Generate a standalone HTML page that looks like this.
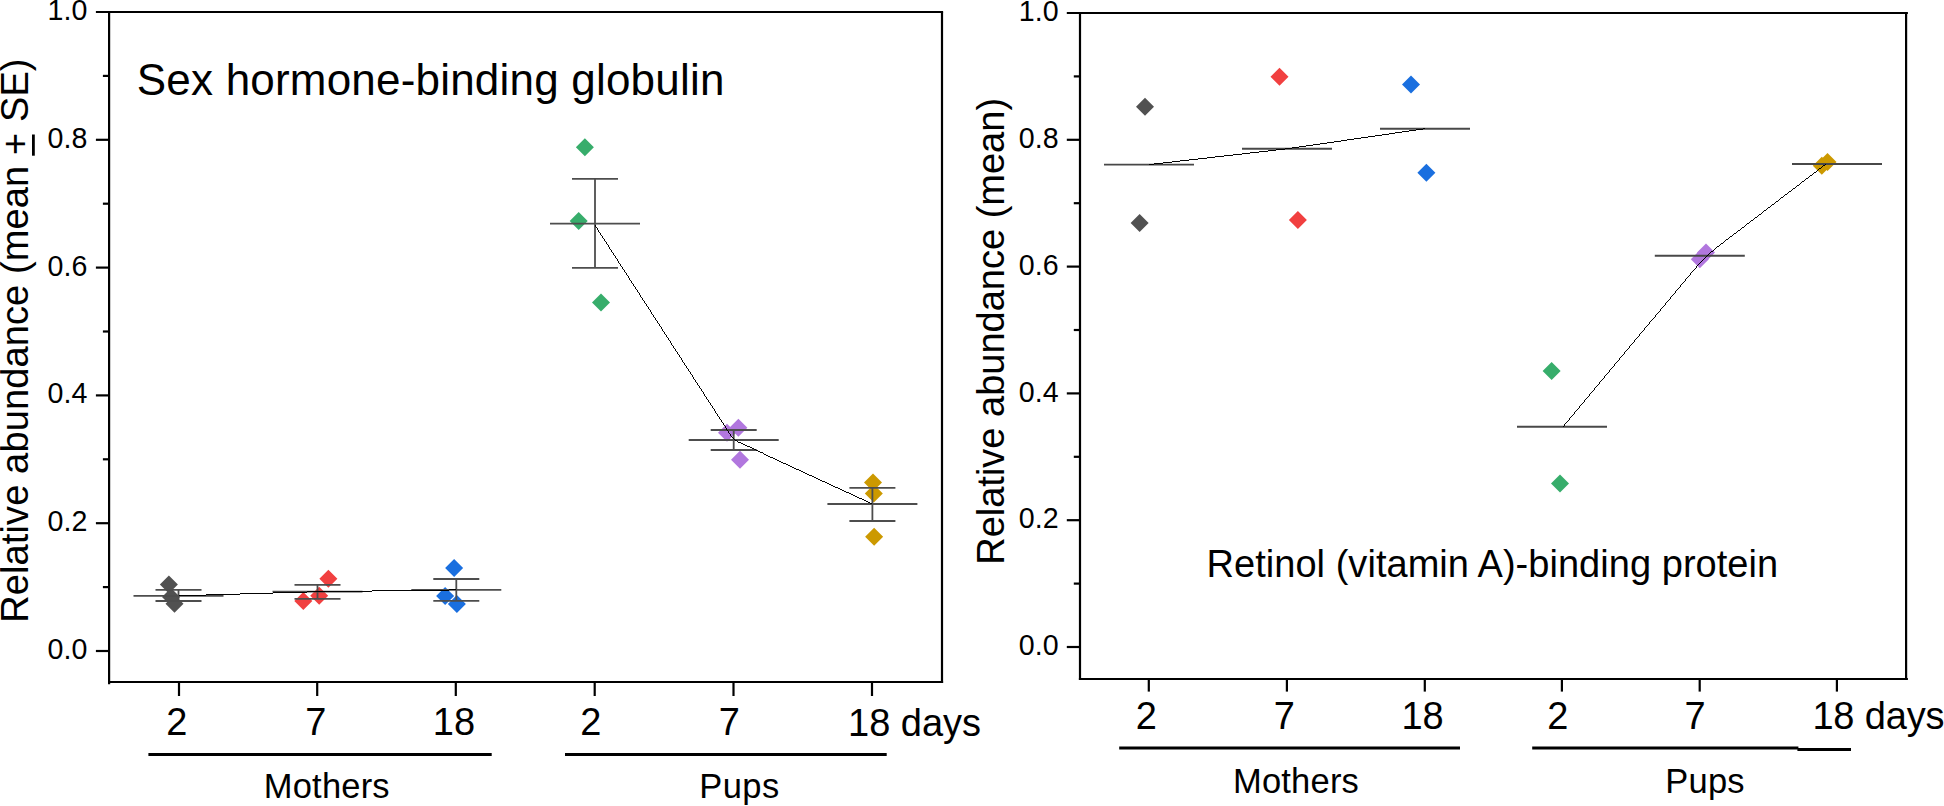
<!DOCTYPE html>
<html lang="en"><head><meta charset="utf-8"><title>Relative abundance plots</title>
<style>
html,body{margin:0;padding:0;background:#fff;}
body{width:1944px;height:806px;overflow:hidden;}
svg{display:block;}
text{font-family:"Liberation Sans",Arial,Helvetica,sans-serif;fill:#000;}
</style></head><body>
<svg width="1944" height="806" viewBox="0 0 1944 806">
<rect width="1944" height="806" fill="#fff"/>
<g stroke="#000" stroke-width="2.2" fill="none" stroke-linecap="butt">
<path d="M95.89999999999999,12 H943.1"/>
<path d="M109.1,12 V684.2"/>
<path d="M108.0,682 H943.1"/>
<path d="M942,12 V683.1"/>
<path d="M102.89999999999999,75.9 H109.1"/>
<path d="M95.89999999999999,139.8 H109.1"/>
<path d="M102.89999999999999,203.7 H109.1"/>
<path d="M95.89999999999999,267.6 H109.1"/>
<path d="M102.89999999999999,331.5 H109.1"/>
<path d="M95.89999999999999,395.4 H109.1"/>
<path d="M102.89999999999999,459.3 H109.1"/>
<path d="M95.89999999999999,523.2 H109.1"/>
<path d="M102.89999999999999,587.1 H109.1"/>
<path d="M95.89999999999999,651.0 H109.1"/>
<path d="M179,682 V696"/>
<path d="M317.2,682 V696"/>
<path d="M455.8,682 V696"/>
<path d="M594.7,682 V696"/>
<path d="M733.5,682 V696"/>
<path d="M872,682 V696"/>
</g>
<text x="87.3" y="20.0" font-size="28.6" text-anchor="end">1.0</text>
<text x="87.3" y="147.8" font-size="28.6" text-anchor="end">0.8</text>
<text x="87.3" y="275.6" font-size="28.6" text-anchor="end">0.6</text>
<text x="87.3" y="403.4" font-size="28.6" text-anchor="end">0.4</text>
<text x="87.3" y="531.2" font-size="28.6" text-anchor="end">0.2</text>
<text x="87.3" y="659.0" font-size="28.6" text-anchor="end">0.0</text>
<text x="176.9" y="735.3000000000001" font-size="38" text-anchor="middle">2</text>
<text x="315.9" y="735.3000000000001" font-size="38" text-anchor="middle">7</text>
<text x="453.9" y="735.3000000000001" font-size="38" text-anchor="middle">18</text>
<text x="590.9" y="735.3000000000001" font-size="38" text-anchor="middle">2</text>
<text x="729.3" y="735.3000000000001" font-size="38" text-anchor="middle">7</text>
<text x="848" y="735.6" font-size="38" text-anchor="start">18 days</text>
<line x1="148.4" y1="754.4" x2="491.7" y2="754.4" stroke="#000" stroke-width="3"/>
<line x1="565" y1="754.4" x2="886.7" y2="754.4" stroke="#000" stroke-width="3"/>
<text x="263.8" y="798.0" font-size="34.5" letter-spacing="0.2">Mothers</text>
<text x="699.2" y="798.0" font-size="34.5" letter-spacing="0.45">Pups</text>
<text transform="translate(28.1,622.8) rotate(-90)" font-size="38" letter-spacing="0.12">Relative abundance (mean + SE)</text>
<line x1="33.4" y1="155.7" x2="33.4" y2="134.5" stroke="#000" stroke-width="2.8"/>
<text x="136.8" y="94.5" font-size="44" letter-spacing="0.2">Sex hormone-binding globulin</text>
<polygon points="168.9,575.4 177.9,584.4 168.9,593.4 159.9,584.4" fill="#515151"/>
<polygon points="171,588 180,597 171,606 162,597" fill="#515151"/>
<polygon points="174.5,594.7 183.5,603.7 174.5,612.7 165.5,603.7" fill="#515151"/>
<polygon points="328.4,569.7 337.4,578.7 328.4,587.7 319.4,578.7" fill="#F14040"/>
<polygon points="319.2,586.8 328.2,595.8 319.2,604.8 310.2,595.8" fill="#F14040"/>
<polygon points="303.3,592 312.3,601 303.3,610 294.3,601" fill="#F14040"/>
<polygon points="454.1,558.9 463.1,567.9 454.1,576.9 445.1,567.9" fill="#1A6FDF"/>
<polygon points="445.1,587.1 454.1,596.1 445.1,605.1 436.1,596.1" fill="#1A6FDF"/>
<polygon points="456.9,595.1 465.9,604.1 456.9,613.1 447.9,604.1" fill="#1A6FDF"/>
<polygon points="584.9,138.3 593.9,147.3 584.9,156.3 575.9,147.3" fill="#37AD6B"/>
<polygon points="578.7,212 587.7,221 578.7,230 569.7,221" fill="#37AD6B"/>
<polygon points="601,293.4 610,302.4 601,311.4 592,302.4" fill="#37AD6B"/>
<polygon points="738.4,418.8 747.4,427.8 738.4,436.8 729.4,427.8" fill="#B177DE"/>
<polygon points="727,423.8 736,432.8 727,441.8 718,432.8" fill="#B177DE"/>
<polygon points="740,450.7 749,459.7 740,468.7 731,459.7" fill="#B177DE"/>
<polygon points="873,473.6 882,482.6 873,491.6 864,482.6" fill="#CC9900"/>
<polygon points="873.8,484.4 882.8,493.4 873.8,502.4 864.8,493.4" fill="#CC9900"/>
<polygon points="874.1,527.8 883.1,536.8 874.1,545.8 865.1,536.8" fill="#CC9900"/>
<line x1="133.5" y1="595.8" x2="223.5" y2="595.8" stroke="#4d4d4d" stroke-width="1.8"/>
<line x1="155.5" y1="589.9" x2="201.5" y2="589.9" stroke="#4d4d4d" stroke-width="1.8"/>
<line x1="155.5" y1="601.0" x2="201.5" y2="601.0" stroke="#4d4d4d" stroke-width="1.8"/>
<line x1="178.5" y1="589.9" x2="178.5" y2="601.0" stroke="#4d4d4d" stroke-width="1.8"/>
<line x1="272.5" y1="591.7" x2="362.5" y2="591.7" stroke="#4d4d4d" stroke-width="1.8"/>
<line x1="294.5" y1="584.9" x2="340.5" y2="584.9" stroke="#4d4d4d" stroke-width="1.8"/>
<line x1="294.5" y1="598.9" x2="340.5" y2="598.9" stroke="#4d4d4d" stroke-width="1.8"/>
<line x1="317.5" y1="584.9" x2="317.5" y2="598.9" stroke="#4d4d4d" stroke-width="1.8"/>
<line x1="411.3" y1="589.9" x2="501.3" y2="589.9" stroke="#4d4d4d" stroke-width="1.8"/>
<line x1="433.3" y1="579.0" x2="479.3" y2="579.0" stroke="#4d4d4d" stroke-width="1.8"/>
<line x1="433.3" y1="600.9" x2="479.3" y2="600.9" stroke="#4d4d4d" stroke-width="1.8"/>
<line x1="456.3" y1="579.0" x2="456.3" y2="600.9" stroke="#4d4d4d" stroke-width="1.8"/>
<line x1="550" y1="223.7" x2="640" y2="223.7" stroke="#4d4d4d" stroke-width="1.8"/>
<line x1="572" y1="178.8" x2="618" y2="178.8" stroke="#4d4d4d" stroke-width="1.8"/>
<line x1="572" y1="267.9" x2="618" y2="267.9" stroke="#4d4d4d" stroke-width="1.8"/>
<line x1="595" y1="178.8" x2="595" y2="267.9" stroke="#4d4d4d" stroke-width="1.8"/>
<line x1="688.7" y1="440" x2="778.7" y2="440" stroke="#4d4d4d" stroke-width="1.8"/>
<line x1="710.7" y1="430" x2="756.7" y2="430" stroke="#4d4d4d" stroke-width="1.8"/>
<line x1="710.7" y1="450" x2="756.7" y2="450" stroke="#4d4d4d" stroke-width="1.8"/>
<line x1="733.7" y1="430" x2="733.7" y2="450" stroke="#4d4d4d" stroke-width="1.8"/>
<line x1="827.4" y1="504" x2="917.4" y2="504" stroke="#4d4d4d" stroke-width="1.8"/>
<line x1="849.4" y1="487.8" x2="895.4" y2="487.8" stroke="#4d4d4d" stroke-width="1.8"/>
<line x1="849.4" y1="521" x2="895.4" y2="521" stroke="#4d4d4d" stroke-width="1.8"/>
<line x1="872.4" y1="487.8" x2="872.4" y2="521" stroke="#4d4d4d" stroke-width="1.8"/>
<g stroke="#000" stroke-width="0.99" fill="none" shape-rendering="crispEdges">
<path d="M178.5,595.8 L317.5,591.7 L456.3,589.9"/>
<path d="M594.5,224.6 L730.5,435 Q733.9,440.2 739.5,442.8 L872.4,504"/>
</g>
<g stroke="#000" stroke-width="2.2" fill="none" stroke-linecap="butt">
<path d="M1066.8,13 H1907.8999999999999"/>
<path d="M1080,13 V680.1"/>
<path d="M1078.9,679 H1907.8999999999999"/>
<path d="M1906.1,13 V680.1"/>
<path d="M1073.8,76.4 H1080"/>
<path d="M1066.8,139.8 H1080"/>
<path d="M1073.8,203.2 H1080"/>
<path d="M1066.8,266.6 H1080"/>
<path d="M1073.8,330.0 H1080"/>
<path d="M1066.8,393.4 H1080"/>
<path d="M1073.8,456.8 H1080"/>
<path d="M1066.8,520.2 H1080"/>
<path d="M1073.8,583.6 H1080"/>
<path d="M1066.8,647.0 H1080"/>
<path d="M1148.8,679 V691.6"/>
<path d="M1286.9,679 V691.6"/>
<path d="M1424.8,679 V691.6"/>
<path d="M1561.9,679 V691.6"/>
<path d="M1699.7,679 V691.6"/>
<path d="M1836.9,679 V691.6"/>
</g>
<text x="1058.6" y="21.1" font-size="28.6" text-anchor="end">1.0</text>
<text x="1058.6" y="147.9" font-size="28.6" text-anchor="end">0.8</text>
<text x="1058.6" y="274.7" font-size="28.6" text-anchor="end">0.6</text>
<text x="1058.6" y="401.5" font-size="28.6" text-anchor="end">0.4</text>
<text x="1058.6" y="528.3" font-size="28.6" text-anchor="end">0.2</text>
<text x="1058.6" y="655.1" font-size="28.6" text-anchor="end">0.0</text>
<text x="1146.4" y="729.2" font-size="38" text-anchor="middle">2</text>
<text x="1284.3" y="729.2" font-size="38" text-anchor="middle">7</text>
<text x="1422.6" y="729.2" font-size="38" text-anchor="middle">18</text>
<text x="1557.7" y="729.2" font-size="38" text-anchor="middle">2</text>
<text x="1695.0" y="729.2" font-size="38" text-anchor="middle">7</text>
<text x="1812.4" y="728.6" letter-spacing="-0.15" font-size="38" text-anchor="start">18 days</text>
<line x1="1119.2" y1="747.9" x2="1460" y2="747.9" stroke="#000" stroke-width="3"/>
<line x1="1532.2" y1="747.9" x2="1798.4" y2="747.9" stroke="#000" stroke-width="3"/>
<line x1="1797.4" y1="749.4" x2="1851" y2="749.4" stroke="#000" stroke-width="3"/>
<text x="1233" y="793" font-size="34.5" letter-spacing="0.2">Mothers</text>
<text x="1665.3" y="793" font-size="34.5" letter-spacing="0.2">Pups</text>
<text transform="translate(1004.1,564.8) rotate(-90)" font-size="38">Relative abundance (mean)</text>
<text x="1206.5" y="577.1" font-size="38" letter-spacing="0.04">Retinol (vitamin A)-binding protein</text>
<polygon points="1145,97.8 1154,106.8 1145,115.8 1136,106.8" fill="#515151"/>
<polygon points="1139.6,214 1148.6,223 1139.6,232 1130.6,223" fill="#515151"/>
<polygon points="1279.5,67.8 1288.5,76.8 1279.5,85.8 1270.5,76.8" fill="#F14040"/>
<polygon points="1297.9,211 1306.9,220 1297.9,229 1288.9,220" fill="#F14040"/>
<polygon points="1411,75.5 1420,84.5 1411,93.5 1402,84.5" fill="#1A6FDF"/>
<polygon points="1426.4,163.8 1435.4,172.8 1426.4,181.8 1417.4,172.8" fill="#1A6FDF"/>
<polygon points="1551.6,362 1560.6,371 1551.6,380 1542.6,371" fill="#37AD6B"/>
<polygon points="1560,474.6 1569,483.6 1560,492.6 1551,483.6" fill="#37AD6B"/>
<polygon points="1706,243.6 1715,252.6 1706,261.6 1697,252.6" fill="#B177DE"/>
<polygon points="1699.8,250.3 1708.8,259.3 1699.8,268.3 1690.8,259.3" fill="#B177DE"/>
<polygon points="1827.5,153 1836.5,162 1827.5,171 1818.5,162" fill="#CC9900"/>
<polygon points="1821.8,156.8 1830.8,165.8 1821.8,174.8 1812.8,165.8" fill="#CC9900"/>
<line x1="1104" y1="164.6" x2="1194" y2="164.6" stroke="#484848" stroke-width="1.9"/>
<line x1="1242" y1="148.8" x2="1332" y2="148.8" stroke="#484848" stroke-width="1.9"/>
<line x1="1380" y1="128.7" x2="1470" y2="128.7" stroke="#484848" stroke-width="1.9"/>
<line x1="1517" y1="426.8" x2="1607" y2="426.8" stroke="#484848" stroke-width="1.9"/>
<line x1="1654.8" y1="255.8" x2="1744.8" y2="255.8" stroke="#484848" stroke-width="1.9"/>
<line x1="1792" y1="164" x2="1882" y2="164" stroke="#484848" stroke-width="1.9"/>
<g stroke="#000" stroke-width="0.99" fill="none" shape-rendering="crispEdges">
<path d="M1149,164.6 L1287,148.8 L1425,128.7"/>
<path d="M1562.5,427.3 L1695,268.6 Q1705,256.6 1716,248 L1825.9,164.1"/>
</g>
</svg></body></html>
